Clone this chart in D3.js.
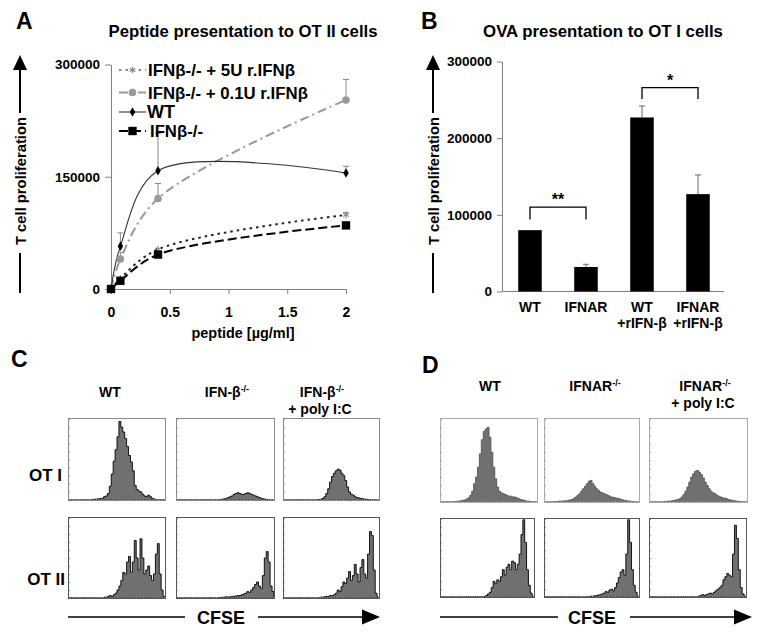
<!DOCTYPE html>
<html><head><meta charset="utf-8">
<script src="https://cdn.jsdelivr.net/npm/d3@7"></script>
<style>
body{margin:0;background:#fff}
svg{display:block}
text{font-family:"Liberation Sans",Arial,sans-serif;font-weight:bold;fill:#000}
</style>
</head><body>
<svg id="fig" width="762" height="636"></svg>
<script>
// ---------------- DATA ----------------
// Panel A: peptide presentation to OT II cells
const doseX = [0, 0.08, 0.4, 2];
const wtVals = [0, 57000, 158000, 155000];
const wtErr = [0, 18000, 50000, 9000];
const u01Vals = [0, 40000, 121000, 252500];
const u01Err = [0, 9000, 20000, 27500];
const u5Vals = [0, 14000, 53000, 99000];
const u5Err = [0, 0, 0, 3000];
const koVals = [0, 11000, 46000, 85000];
const koErr = [0, 0, 0, 0];
const legendLabels = ["IFNβ-/- + 5U r.IFNβ", "IFNβ-/- + 0.1U r.IFNβ", "WT", "IFNβ-/-"];
const xTicksA = [0, 0.5, 1, 1.5, 2];
const yTicksA = [0, 150000, 300000];

// Panel B: OVA presentation to OT I cells
const barCats = [["WT"], ["IFNAR"], ["WT", "+rIFN-β"], ["IFNAR", "+rIFN-β"]];
const barVals = [80000, 32000, 227000, 127000];
const barErr = [0, 3500, 15000, 25000];
const yTicksB = [0, 100000, 200000, 300000];
const sigBrackets = [
  {from: 0, to: 1, top: 110000, leg: 94000, label: "**"},
  {from: 2, to: 3, top: 266000, leg: 251000, label: "*"}
];

// Panels C/D: CFSE histograms (bin heights as fraction of box height, 50 bins)
const colHeadC = [["WT"], ["IFN-β", "-/-"], ["IFN-β", "-/-", "+ poly I:C"]];
const colHeadD = [["WT"], ["IFNAR", "-/-"], ["IFNAR", "-/-", "+ poly I:C"]];
const rowLabels = ["OT I", "OT II"];

const histC_OT1_WT = [0,0,0,0,0,0,0,0,0,0,0,0,0.005,0.01,0.01,0.015,0.02,0.02,0.04,0.05,0.08,0.17,0.32,0.48,0.62,0.78,0.97,0.9,0.84,0.76,0.66,0.55,0.47,0.36,0.18,0.13,0.11,0.1,0.07,0.05,0.04,0.06,0.04,0.02,0.01,0,0,0,0,0];
const histC_OT1_KO = [0,0,0,0,0,0,0,0,0,0,0,0,0,0,0,0,0,0,0,0,0,0,0.005,0.01,0.015,0.02,0.03,0.04,0.05,0.07,0.08,0.09,0.08,0.07,0.07,0.08,0.09,0.08,0.07,0.06,0.05,0.04,0.03,0.02,0.015,0.01,0.005,0,0,0];
const histC_OT1_PIC = [0,0,0,0,0,0,0,0,0,0,0,0,0,0,0,0,0,0,0.005,0.01,0.02,0.04,0.08,0.14,0.22,0.29,0.33,0.36,0.38,0.37,0.33,0.3,0.24,0.16,0.1,0.07,0.06,0.04,0.03,0.025,0.02,0.015,0.01,0.01,0.005,0,0,0,0,0];
const histC_OT2_WT = [0,0,0,0,0,0,0,0,0,0,0,0,0,0,0,0,0,0,0.01,0.01,0.02,0.03,0.02,0.04,0.06,0.1,0.15,0.22,0.32,0.3,0.45,0.52,0.32,0.45,0.72,0.5,0.35,0.74,0.5,0.3,0.35,0.4,0.28,0.22,0.3,0.55,0.68,0.3,0.1,0.02];
const histC_OT2_KO = [0,0,0,0,0,0,0,0,0,0,0,0,0,0,0,0,0,0,0,0,0,0,0.005,0.01,0.01,0.015,0.01,0.015,0.02,0.02,0.025,0.03,0.03,0.04,0.05,0.06,0.08,0.07,0.1,0.13,0.17,0.2,0.15,0.12,0.28,0.5,0.58,0.45,0.15,0.08];
const histC_OT2_PIC = [0,0,0,0,0,0,0,0,0,0,0,0,0,0,0,0,0,0,0,0.01,0.01,0.015,0.02,0.02,0.03,0.03,0.04,0.06,0.1,0.08,0.14,0.2,0.18,0.25,0.33,0.22,0.28,0.42,0.3,0.2,0.38,0.48,0.3,0.25,0.55,0.83,0.78,0.35,0.06,0.01];
const histD_OT1_WT = [0,0,0,0,0,0,0,0.005,0.01,0.01,0.015,0.02,0.025,0.035,0.05,0.08,0.13,0.22,0.3,0.42,0.58,0.75,0.85,0.88,0.9,0.78,0.6,0.42,0.28,0.18,0.13,0.11,0.1,0.09,0.08,0.07,0.07,0.06,0.06,0.05,0.04,0.03,0.025,0.02,0.01,0.01,0.005,0,0,0];
const histD_OT1_KO = [0,0,0,0,0,0.005,0.005,0.01,0.01,0.01,0.015,0.015,0.02,0.025,0.03,0.045,0.06,0.08,0.1,0.13,0.16,0.19,0.22,0.25,0.26,0.22,0.19,0.16,0.14,0.12,0.11,0.1,0.09,0.08,0.07,0.06,0.055,0.05,0.045,0.04,0.03,0.025,0.02,0.015,0.01,0.01,0.005,0,0,0];
const histD_OT1_PIC = [0,0,0,0,0,0,0,0.005,0.005,0.01,0.01,0.015,0.02,0.025,0.03,0.04,0.06,0.09,0.13,0.18,0.24,0.3,0.34,0.37,0.38,0.36,0.33,0.29,0.24,0.2,0.16,0.13,0.11,0.1,0.08,0.07,0.06,0.05,0.045,0.04,0.03,0.025,0.02,0.015,0.01,0.01,0.005,0,0,0];
const histD_OT2_WT = [0,0,0,0,0,0,0,0,0,0,0,0,0,0,0,0,0,0,0,0,0,0,0,0.005,0.02,0.04,0.06,0.12,0.2,0.17,0.22,0.2,0.26,0.35,0.28,0.38,0.42,0.35,0.46,0.44,0.35,0.42,0.55,0.8,0.99,0.7,0.35,0.15,0.05,0.01];
const histD_OT2_KO = [0,0,0,0,0,0,0,0,0,0,0,0,0,0,0,0,0,0,0,0,0,0,0,0.005,0.01,0.01,0.015,0.02,0.025,0.03,0.04,0.05,0.07,0.06,0.09,0.1,0.08,0.12,0.18,0.25,0.32,0.35,0.28,0.55,0.99,0.7,0.35,0.15,0.06,0.01];
const histD_OT2_PIC = [0,0,0,0,0,0,0,0,0,0,0,0,0,0,0,0,0,0,0,0,0,0,0,0,0,0.01,0.02,0.03,0.02,0.03,0.04,0.05,0.04,0.06,0.08,0.1,0.12,0.15,0.22,0.26,0.3,0.28,0.26,0.55,0.92,0.75,0.35,0.12,0.04,0.01];

// ---------------- DRAWING ----------------
const svg = d3.select("#fig");
svg.append("rect").attr("width", 762).attr("height", 636).attr("fill", "#fff");
const FONT = '"Liberation Sans",Arial,sans-serif';

function label(x, y, txt, size, anchor) {
  return svg.append("text").attr("x", x).attr("y", y).attr("font-size", size)
    .attr("text-anchor", anchor || "start").text(txt);
}
// scale a text's font size so that it spans the given width
function fitWidth(sel, target) {
  const fs = +sel.attr("font-size");
  const w = sel.node().getComputedTextLength();
  if (w > 0) sel.attr("font-size", (fs * target / w).toFixed(2));
  return sel;
}

// panel letters
label(16, 29, "A", 23); label(421, 29, "B", 23);
label(11, 367, "C", 23); label(422, 373, "D", 23);

// titles
fitWidth(label(243, 37, "Peptide presentation to OT II cells", 15, "middle"), 269);
fitWidth(label(603, 37, "OVA presentation to OT I cells", 15, "middle"), 240);

// vertical arrow axis title
function yArrow(x, centerY) {
  svg.append("path").attr("d", `M${x - 7},70L${x},55L${x + 7},70Z`).attr("fill", "#000");
  svg.append("line").attr("x1", x).attr("x2", x).attr("y1", 69).attr("y2", 113)
    .attr("stroke", "#000").attr("stroke-width", 2);
  const t = svg.append("text").attr("transform", `translate(${x + 5.5},${centerY}) rotate(-90)`)
    .attr("text-anchor", "middle").attr("font-size", 15).text("T cell proliferation");
  fitWidth(t, 128);
  svg.append("line").attr("x1", x).attr("x2", x).attr("y1", 253).attr("y2", 293)
    .attr("stroke", "#000").attr("stroke-width", 2);
}
yArrow(20, 181);
yArrow(433, 181);

function styleAxis(g, size) {
  g.attr("font-family", FONT).attr("font-size", size).attr("font-weight", "bold");
  g.selectAll("path.domain").attr("stroke", "#808080");
  g.selectAll(".tick line").attr("stroke", "#808080");
  g.selectAll(".tick text").attr("fill", "#000");
}

// ---------- Panel A ----------
const xA = d3.scaleLinear().domain([0, 2]).range([111, 346]);
const yA = d3.scaleLinear().domain([0, 300000]).range([289, 64.5]);
styleAxis(svg.append("g").attr("transform", "translate(0,289)")
  .call(d3.axisBottom(xA).tickValues(xTicksA).tickSize(5).tickSizeOuter(0).tickPadding(13).tickFormat(d => d)), 14);
styleAxis(svg.append("g").attr("transform", "translate(111,0)")
  .call(d3.axisLeft(yA).tickValues(yTicksA).tickSize(6).tickSizeOuter(0).tickPadding(5).tickFormat(d3.format("d"))), 13.5);
fitWidth(label(243, 338, "peptide [µg/ml]", 14, "middle"), 103);

const seriesA = [
  {vals: u5Vals, err: u5Err, color: "#222", dash: "2.5,4", width: 2, mark: "ast", mcolor: "#888"},
  {vals: u01Vals, err: u01Err, color: "#999", dash: "9,4,2,4", width: 2, mark: "circle", mcolor: "#999"},
  {vals: wtVals, err: wtErr, color: "#333", dash: null, width: 1.1, mark: "diamond", mcolor: "#000"},
  {vals: koVals, err: koErr, color: "#000", dash: "9,4", width: 2, mark: "square", mcolor: "#000"}
];
const lineGen = d3.line().curve(d3.curveCatmullRom.alpha(0.5));
const symFor = {
  ast: d3.symbol(d3.symbolAsterisk, 30), circle: d3.symbol(d3.symbolCircle, 45),
  diamond: d3.symbol(d3.symbolDiamond, 26), square: d3.symbol(d3.symbolSquare, 70)
};
function drawMarker(g, s, x, y) {
  const p = g.append("path").attr("d", symFor[s.mark]()).attr("transform", `translate(${x},${y})`);
  if (s.mark === "ast") p.attr("fill", "none").attr("stroke", s.mcolor).attr("stroke-width", 1.2);
  else p.attr("fill", s.mcolor);
}
const gA = svg.append("g");
seriesA.forEach(s => {
  const pts = doseX.map((x, i) => [xA(x), yA(s.vals[i])]);
  gA.append("path").attr("d", lineGen(pts)).attr("fill", "none").attr("stroke", s.color)
    .attr("stroke-width", s.width).attr("stroke-dasharray", s.dash);
});
seriesA.forEach(s => {
  doseX.forEach((x, i) => {
    if (s.err[i] > 0) {
      const cx = xA(x), y0 = yA(s.vals[i]), y1 = yA(s.vals[i] + s.err[i]);
      gA.append("line").attr("x1", cx).attr("x2", cx).attr("y1", y0).attr("y2", y1).attr("stroke", "#888");
      gA.append("line").attr("x1", cx - 3).attr("x2", cx + 3).attr("y1", y1).attr("y2", y1).attr("stroke", "#888");
    }
  });
});
seriesA.forEach(s => doseX.forEach((x, i) => drawMarker(gA, s, xA(x), yA(s.vals[i]))));

// legend
const legY = [70, 92.5, 112, 131];
const legX = [148, 148, 147, 150];
const legW = [147, 160, 28, 53];
legendLabels.forEach((t, i) => {
  const s = seriesA[i], y = legY[i];
  gA.append("line").attr("x1", 119).attr("x2", 146).attr("y1", y).attr("y2", y)
    .attr("stroke", i === 0 ? "#888" : s.color).attr("stroke-width", s.width).attr("stroke-dasharray", s.dash);
  drawMarker(gA, s, 132.5, y);
  const tx = gA.append("text").attr("x", legX[i]).attr("y", y).attr("dy", "0.36em").attr("font-size", 16.5).text(t);
  fitWidth(tx, legW[i]);
});

// ---------- Panel B ----------
const xB = d3.scaleBand().domain(d3.range(barCats.length)).range([502, 726]).paddingInner(0.58).paddingOuter(0.29);
const yB = d3.scaleLinear().domain([0, 300000]).range([291.5, 61.5]);
styleAxis(svg.append("g").attr("transform", "translate(502,0)")
  .call(d3.axisLeft(yB).tickValues(yTicksB).tickSize(5).tickSizeOuter(0).tickPadding(5).tickFormat(d3.format("d"))), 13.5);
svg.append("line").attr("x1", 502).attr("x2", 724).attr("y1", yB(0)).attr("y2", yB(0)).attr("stroke", "#808080");
const gB = svg.append("g");
barVals.forEach((v, i) => {
  gB.append("rect").attr("x", xB(i)).attr("y", yB(v)).attr("width", xB.bandwidth())
    .attr("height", yB(0) - yB(v)).attr("fill", "#000");
  if (barErr[i] > 0) {
    const cx = xB(i) + xB.bandwidth() / 2, y1 = yB(v + barErr[i]);
    gB.append("line").attr("x1", cx).attr("x2", cx).attr("y1", yB(v)).attr("y2", y1).attr("stroke", "#666");
    gB.append("line").attr("x1", cx - 3).attr("x2", cx + 3).attr("y1", y1).attr("y2", y1).attr("stroke", "#666");
  }
  barCats[i].forEach((ln, j) => {
    gB.append("text").attr("x", xB(i) + xB.bandwidth() / 2).attr("y", 312 + j * 15.5)
      .attr("text-anchor", "middle").attr("font-size", 14).text(ln);
  });
});
sigBrackets.forEach(b => {
  const x1 = xB(b.from) + xB.bandwidth() / 2, x2 = xB(b.to) + xB.bandwidth() / 2;
  gB.append("path").attr("d", `M${x1},${yB(b.leg)}V${yB(b.top)}H${x2}V${yB(b.leg)}`)
    .attr("fill", "none").attr("stroke", "#000").attr("stroke-width", 1.3);
  gB.append("text").attr("x", (x1 + x2) / 2).attr("y", yB(b.top) - 2).attr("text-anchor", "middle")
    .attr("font-size", 16).text(b.label);
});

// ---------- Panels C & D ----------
function drawHist(box, data, border, stroke) {
  const g = svg.append("g");
  const hx = d3.scaleLinear().domain([0, data.length]).range([box.x + 1, box.x + box.w - 1]);
  const hy = d3.scaleLinear().domain([0, 1]).range([box.y + box.h - 1, box.y + 1]);
  const pts = data.map((v, i) => [i, v]).concat([[data.length, data[data.length - 1]]]);
  const area = d3.area().x(d => hx(d[0])).y0(hy(0)).y1(d => hy(d[1])).curve(d3.curveStepAfter);
  g.append("path").datum(pts).attr("d", area).attr("fill", "#707070")
    .attr("stroke", stroke).attr("stroke-width", 0.9).attr("stroke-linejoin", "round");
  const tl = g.append("g").attr("transform", `translate(${box.x},0)`)
    .call(d3.axisRight(hy).ticks(12).tickSize(2).tickSizeOuter(0).tickFormat(""));
  tl.select(".domain").remove(); tl.selectAll("line").attr("stroke", "#999");
  const bs = d3.scaleLinear().domain([0, 40]).range([box.x + 2, box.x + box.w - 2]);
  const tb = g.append("g").attr("transform", `translate(0,${box.y + box.h})`)
    .call(d3.axisTop(bs).ticks(40).tickSize(2).tickSizeOuter(0).tickFormat(""));
  tb.select(".domain").remove(); tb.selectAll("line").attr("stroke", "#999");
  g.append("rect").attr("x", box.x + 0.5).attr("y", box.y + 0.5).attr("width", box.w - 1)
    .attr("height", box.h - 1).attr("fill", "none").attr("stroke", border).attr("stroke-width", 1);
}
function headers(heads, centers, y1, y2) {
  heads.forEach((h, i) => {
    const t = svg.append("text").attr("x", centers[i]).attr("y", y1).attr("text-anchor", "middle").attr("font-size", 14);
    t.append("tspan").text(h[0]);
    if (h[1]) t.append("tspan").attr("dy", -5).attr("font-size", 9).text(h[1]);
    if (h[2]) label(centers[i] - 2, y2, h[2], 14, "middle");
  });
}
function cfseArrow(x1, xa, xb, x2, cx) {
  svg.append("line").attr("x1", x1).attr("x2", xa).attr("y1", 617).attr("y2", 617).attr("stroke", "#000").attr("stroke-width", 1.5);
  svg.append("line").attr("x1", xb).attr("x2", x2 - 16).attr("y1", 617).attr("y2", 617).attr("stroke", "#000").attr("stroke-width", 1.5);
  svg.append("path").attr("d", `M${x2 - 18},609.5L${x2},617L${x2 - 18},624.5Z`).attr("fill", "#000");
  label(cx, 623.5, "CFSE", 18, "middle");
}

// C
const boxesC = [
  [{x: 68, y: 418, w: 98, h: 83}, {x: 176, y: 418, w: 99, h: 83}, {x: 283, y: 418, w: 97, h: 83}],
  [{x: 68, y: 517, w: 98, h: 82}, {x: 176, y: 517, w: 99, h: 82}, {x: 283, y: 517, w: 97, h: 82}]
];
const dataC = [[histC_OT1_WT, histC_OT1_KO, histC_OT1_PIC], [histC_OT2_WT, histC_OT2_KO, histC_OT2_PIC]];
boxesC.forEach((row, r) => row.forEach((b, c) => drawHist(b, dataC[r][c], r === 0 ? "#8a8a8a" : "#555", "#000")));
headers(colHeadC, [110, 227, 322], 397, 414);
label(62, 481, rowLabels[0], 17, "end");
label(65, 585, rowLabels[1], 17, "end");
cfseArrow(68, 185, 258, 380, 221);

// D
const boxesD = [
  [{x: 440, y: 418, w: 98, h: 85}, {x: 544, y: 418, w: 96, h: 85}, {x: 649, y: 418, w: 99, h: 85}],
  [{x: 440, y: 518, w: 95, h: 80}, {x: 544, y: 518, w: 96, h: 80}, {x: 649, y: 518, w: 98, h: 80}]
];
const dataD = [[histD_OT1_WT, histD_OT1_KO, histD_OT1_PIC], [histD_OT2_WT, histD_OT2_KO, histD_OT2_PIC]];
boxesD.forEach((row, r) => row.forEach((b, c) => drawHist(b, dataD[r][c], r === 0 ? "#aaa" : "#555", r === 0 ? "#555" : "#000")));
headers(colHeadD, [490, 595, 705], 391, 408);
cfseArrow(440, 558, 630, 752, 592);
</script>
</body></html>
